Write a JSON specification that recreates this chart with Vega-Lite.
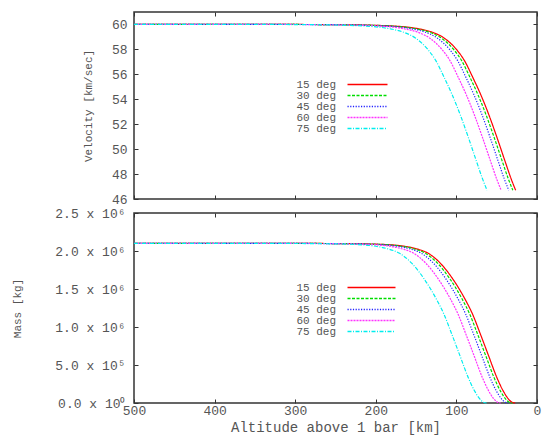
{
  "$schema": "https://vega.github.io/schema/vega-lite/v6.json",
  "padding": {"left": 11, "top": 10, "right": 4, "bottom": 2},
  "bounds": "flush",
  "spacing": 14,
  "datasets": {
    "vel": [
      {"d":"15 deg","a":500,"v":60.0},{"d":"15 deg","a":300,"v":60.0},{"d":"15 deg","a":260,"v":59.99},{"d":"15 deg","a":230,"v":59.97},{"d":"15 deg","a":200,"v":59.93},{"d":"15 deg","a":180,"v":59.88},{"d":"15 deg","a":160,"v":59.78},{"d":"15 deg","a":145,"v":59.63},{"d":"15 deg","a":130,"v":59.38},{"d":"15 deg","a":115,"v":58.9},{"d":"15 deg","a":100,"v":58.0},{"d":"15 deg","a":90,"v":57.1},{"d":"15 deg","a":80,"v":55.8},{"d":"15 deg","a":70,"v":54.4},{"d":"15 deg","a":60,"v":52.8},{"d":"15 deg","a":50,"v":51.0},{"d":"15 deg","a":40,"v":49.1},{"d":"15 deg","a":32,"v":47.6},{"d":"15 deg","a":26.5,"v":46.7},
      {"d":"30 deg","a":500,"v":60.0},{"d":"30 deg","a":303.5,"v":60.0},{"d":"30 deg","a":263.5,"v":59.99},{"d":"30 deg","a":233.5,"v":59.97},{"d":"30 deg","a":203.5,"v":59.93},{"d":"30 deg","a":183.5,"v":59.88},{"d":"30 deg","a":163.5,"v":59.78},{"d":"30 deg","a":148.5,"v":59.63},{"d":"30 deg","a":133.5,"v":59.38},{"d":"30 deg","a":118.5,"v":58.9},{"d":"30 deg","a":103.5,"v":58.0},{"d":"30 deg","a":93.5,"v":57.1},{"d":"30 deg","a":83.5,"v":55.8},{"d":"30 deg","a":73.5,"v":54.4},{"d":"30 deg","a":63.5,"v":52.8},{"d":"30 deg","a":53.5,"v":51.0},{"d":"30 deg","a":43.5,"v":49.1},{"d":"30 deg","a":35.5,"v":47.6},{"d":"30 deg","a":30,"v":46.7},
      {"d":"45 deg","a":500,"v":60.0},{"d":"45 deg","a":308.5,"v":60.0},{"d":"45 deg","a":268.5,"v":59.99},{"d":"45 deg","a":238.5,"v":59.97},{"d":"45 deg","a":208.5,"v":59.93},{"d":"45 deg","a":188.5,"v":59.88},{"d":"45 deg","a":168.5,"v":59.78},{"d":"45 deg","a":153.5,"v":59.63},{"d":"45 deg","a":138.5,"v":59.38},{"d":"45 deg","a":123.5,"v":58.9},{"d":"45 deg","a":108.5,"v":58.0},{"d":"45 deg","a":98.5,"v":57.1},{"d":"45 deg","a":88.5,"v":55.8},{"d":"45 deg","a":78.5,"v":54.4},{"d":"45 deg","a":68.5,"v":52.8},{"d":"45 deg","a":58.5,"v":51.0},{"d":"45 deg","a":48.5,"v":49.1},{"d":"45 deg","a":40.5,"v":47.6},{"d":"45 deg","a":35,"v":46.7},
      {"d":"60 deg","a":500,"v":60.0},{"d":"60 deg","a":318,"v":60.0},{"d":"60 deg","a":278,"v":59.99},{"d":"60 deg","a":248,"v":59.97},{"d":"60 deg","a":218,"v":59.93},{"d":"60 deg","a":198,"v":59.88},{"d":"60 deg","a":178,"v":59.78},{"d":"60 deg","a":163,"v":59.63},{"d":"60 deg","a":148,"v":59.38},{"d":"60 deg","a":133,"v":58.9},{"d":"60 deg","a":118,"v":58.0},{"d":"60 deg","a":108,"v":57.1},{"d":"60 deg","a":98,"v":55.8},{"d":"60 deg","a":88,"v":54.4},{"d":"60 deg","a":78,"v":52.8},{"d":"60 deg","a":68,"v":51.0},{"d":"60 deg","a":58,"v":49.1},{"d":"60 deg","a":50,"v":47.6},{"d":"60 deg","a":44.5,"v":46.7},
      {"d":"75 deg","a":500,"v":60.0},{"d":"75 deg","a":335.5,"v":60.0},{"d":"75 deg","a":295.5,"v":59.99},{"d":"75 deg","a":265.5,"v":59.97},{"d":"75 deg","a":235.5,"v":59.93},{"d":"75 deg","a":215.5,"v":59.88},{"d":"75 deg","a":195.5,"v":59.78},{"d":"75 deg","a":180.5,"v":59.63},{"d":"75 deg","a":165.5,"v":59.38},{"d":"75 deg","a":150.5,"v":58.9},{"d":"75 deg","a":135.5,"v":58.0},{"d":"75 deg","a":125.5,"v":57.1},{"d":"75 deg","a":115.5,"v":55.8},{"d":"75 deg","a":105.5,"v":54.4},{"d":"75 deg","a":95.5,"v":52.8},{"d":"75 deg","a":85.5,"v":51.0},{"d":"75 deg","a":75.5,"v":49.1},{"d":"75 deg","a":67.5,"v":47.6},{"d":"75 deg","a":62,"v":46.7}
    ],
    "mass": [
      {"d":"15 deg","a":500,"m":2100000},{"d":"15 deg","a":300,"m":2100000},{"d":"15 deg","a":250,"m":2098000},{"d":"15 deg","a":200,"m":2090000},{"d":"15 deg","a":170,"m":2070000},{"d":"15 deg","a":150,"m":2030000},{"d":"15 deg","a":135,"m":1970000},{"d":"15 deg","a":120,"m":1840000},{"d":"15 deg","a":105,"m":1640000},{"d":"15 deg","a":90,"m":1380000},{"d":"15 deg","a":80,"m":1170000},{"d":"15 deg","a":70,"m":900000},{"d":"15 deg","a":60,"m":620000},{"d":"15 deg","a":50,"m":340000},{"d":"15 deg","a":42,"m":160000},{"d":"15 deg","a":36,"m":60000},{"d":"15 deg","a":31,"m":10000},{"d":"15 deg","a":27,"m":0},
      {"d":"30 deg","a":500,"m":2100000},{"d":"30 deg","a":303.5,"m":2100000},{"d":"30 deg","a":253.5,"m":2098000},{"d":"30 deg","a":203.5,"m":2090000},{"d":"30 deg","a":173.5,"m":2070000},{"d":"30 deg","a":153.5,"m":2030000},{"d":"30 deg","a":138.5,"m":1970000},{"d":"30 deg","a":123.5,"m":1840000},{"d":"30 deg","a":108.5,"m":1640000},{"d":"30 deg","a":93.5,"m":1380000},{"d":"30 deg","a":83.5,"m":1170000},{"d":"30 deg","a":73.5,"m":900000},{"d":"30 deg","a":63.5,"m":620000},{"d":"30 deg","a":53.5,"m":340000},{"d":"30 deg","a":45.5,"m":160000},{"d":"30 deg","a":39.5,"m":60000},{"d":"30 deg","a":34.5,"m":10000},{"d":"30 deg","a":30.5,"m":0},
      {"d":"45 deg","a":500,"m":2100000},{"d":"45 deg","a":308.5,"m":2100000},{"d":"45 deg","a":258.5,"m":2098000},{"d":"45 deg","a":208.5,"m":2090000},{"d":"45 deg","a":178.5,"m":2070000},{"d":"45 deg","a":158.5,"m":2030000},{"d":"45 deg","a":143.5,"m":1970000},{"d":"45 deg","a":128.5,"m":1840000},{"d":"45 deg","a":113.5,"m":1640000},{"d":"45 deg","a":98.5,"m":1380000},{"d":"45 deg","a":88.5,"m":1170000},{"d":"45 deg","a":78.5,"m":900000},{"d":"45 deg","a":68.5,"m":620000},{"d":"45 deg","a":58.5,"m":340000},{"d":"45 deg","a":50.5,"m":160000},{"d":"45 deg","a":44.5,"m":60000},{"d":"45 deg","a":39.5,"m":10000},{"d":"45 deg","a":35.5,"m":0},
      {"d":"60 deg","a":500,"m":2100000},{"d":"60 deg","a":318,"m":2100000},{"d":"60 deg","a":268,"m":2098000},{"d":"60 deg","a":218,"m":2090000},{"d":"60 deg","a":188,"m":2070000},{"d":"60 deg","a":168,"m":2030000},{"d":"60 deg","a":153,"m":1970000},{"d":"60 deg","a":138,"m":1840000},{"d":"60 deg","a":123,"m":1640000},{"d":"60 deg","a":108,"m":1380000},{"d":"60 deg","a":98,"m":1170000},{"d":"60 deg","a":88,"m":900000},{"d":"60 deg","a":78,"m":620000},{"d":"60 deg","a":68,"m":340000},{"d":"60 deg","a":60,"m":160000},{"d":"60 deg","a":54,"m":60000},{"d":"60 deg","a":49,"m":10000},{"d":"60 deg","a":45,"m":0},
      {"d":"75 deg","a":500,"m":2100000},{"d":"75 deg","a":335.5,"m":2100000},{"d":"75 deg","a":285.5,"m":2098000},{"d":"75 deg","a":235.5,"m":2090000},{"d":"75 deg","a":205.5,"m":2070000},{"d":"75 deg","a":185.5,"m":2030000},{"d":"75 deg","a":170.5,"m":1970000},{"d":"75 deg","a":155.5,"m":1840000},{"d":"75 deg","a":140.5,"m":1640000},{"d":"75 deg","a":125.5,"m":1380000},{"d":"75 deg","a":115.5,"m":1170000},{"d":"75 deg","a":105.5,"m":900000},{"d":"75 deg","a":95.5,"m":620000},{"d":"75 deg","a":85.5,"m":340000},{"d":"75 deg","a":77.5,"m":160000},{"d":"75 deg","a":71.5,"m":60000},{"d":"75 deg","a":66.5,"m":10000},{"d":"75 deg","a":62.5,"m":0}
    ]
  },
  "vconcat": [
    {
      "width": 403,
      "height": 187,
      "data": {"name": "vel"},
      "layer": [
        {
          "mark": {"type": "line", "strokeWidth": 1.2, "interpolate": "monotone"},
          "encoding": {
            "x": {"field": "a", "type": "quantitative", "scale": {"domain": [0, 500], "reverse": true, "nice": false},
                  "axis": {"values": [0, 100, 200, 300, 400, 500], "labels": false, "title": null, "tickSize": -4}},
            "y": {"field": "v", "type": "quantitative", "scale": {"domain": [46, 61], "nice": false, "zero": false},
                  "axis": {"values": [46, 48, 50, 52, 54, 56, 58, 60], "title": "Velocity [km/sec]", "tickSize": -4, "labelPadding": 11, "titlePadding": 18, "titleFontSize": 11}},
            "color": {"field": "d", "type": "nominal",
                      "scale": {"domain": ["15 deg", "30 deg", "45 deg", "60 deg", "75 deg"], "range": ["#ff0000", "#00dd00", "#2222ff", "#ff33ff", "#00eeee"]},
                      "legend": {"orient": "none", "legendX": 228, "legendY": 67, "title": null, "symbolType": "M-5,0H5", "symbolSize": 64, "symbolStrokeWidth": 1.5, "labelAlign": "right", "labelOffset": -37, "rowPadding": -2, "padding": 0}},
            "strokeDash": {"field": "d", "type": "nominal",
                      "scale": {"domain": ["15 deg", "30 deg", "45 deg", "60 deg", "75 deg"], "range": [[1, 0], [3, 1.5], [1.2, 1.5], [2, 1], [4, 1.5, 1, 1.5]]},
                      "legend": {"orient": "none", "legendX": 228, "legendY": 67, "title": null, "symbolType": "M-5,0H5", "symbolSize": 64, "symbolStrokeWidth": 1.5, "labelAlign": "right", "labelOffset": -37, "rowPadding": -2, "padding": 0}}
          }
        },
        {
          "mark": {"type": "line", "opacity": 0},
          "encoding": {
            "x": {"field": "a", "type": "quantitative", "scale": {"domain": [0, 500], "reverse": true, "nice": false},
                  "axis": {"orient": "top", "values": [0, 100, 200, 300, 400, 500], "labels": false, "title": null, "tickSize": -4}},
            "y": {"field": "v", "type": "quantitative", "scale": {"domain": [46, 61], "nice": false, "zero": false},
                  "axis": {"orient": "right", "values": [46, 48, 50, 52, 54, 56, 58, 60], "labels": false, "title": null, "tickSize": -4}},
            "detail": {"field": "d"}
          }
        }
      ],
      "resolve": {"axis": {"x": "independent", "y": "independent"}}
    },
    {
      "width": 403,
      "height": 190,
      "data": {"name": "mass"},
      "layer": [
        {
          "mark": {"type": "line", "strokeWidth": 1.2, "interpolate": "monotone"},
          "encoding": {
            "x": {"field": "a", "type": "quantitative", "scale": {"domain": [0, 500], "reverse": true, "nice": false},
                  "axis": {"values": [0, 100, 200, 300, 400, 500], "title": "Altitude above 1 bar [km]", "tickSize": -4, "labelPadding": 5, "labelFlush": false, "titlePadding": 3, "titleFontSize": 14}},
            "y": {"field": "m", "type": "quantitative", "scale": {"domain": [0, 2500000], "nice": false},
                  "axis": {"values": [0, 500000, 1000000, 1500000, 2000000, 2500000], "title": "Mass [kg]", "tickSize": -4, "labelPadding": 13, "titlePadding": 32, "titleFontSize": 11,
                           "labelExpr": "datum.value == 0 ? '0.0 x 10⁰' : (datum.value < 1000000 ? format(datum.value / 100000, '.1f') + ' x 10⁵' : format(datum.value / 1000000, '.1f') + ' x 10⁶')"}},
            "color": {"field": "d", "type": "nominal",
                      "scale": {"domain": ["15 deg", "30 deg", "45 deg", "60 deg", "75 deg"], "range": ["#ff0000", "#00dd00", "#2222ff", "#ff33ff", "#00eeee"]},
                      "legend": {"orient": "none", "legendX": 232, "legendY": 69, "title": null, "symbolType": "M-6,0H6", "symbolSize": 64, "symbolStrokeWidth": 1.5, "labelAlign": "right", "labelOffset": -41, "rowPadding": -2, "padding": 0}},
            "strokeDash": {"field": "d", "type": "nominal",
                      "scale": {"domain": ["15 deg", "30 deg", "45 deg", "60 deg", "75 deg"], "range": [[1, 0], [3, 1.5], [1.2, 1.5], [2, 1], [4, 1.5, 1, 1.5]]},
                      "legend": {"orient": "none", "legendX": 232, "legendY": 69, "title": null, "symbolType": "M-6,0H6", "symbolSize": 64, "symbolStrokeWidth": 1.5, "labelAlign": "right", "labelOffset": -41, "rowPadding": -2, "padding": 0}}
          }
        },
        {
          "mark": {"type": "line", "opacity": 0},
          "encoding": {
            "x": {"field": "a", "type": "quantitative", "scale": {"domain": [0, 500], "reverse": true, "nice": false},
                  "axis": {"orient": "top", "values": [0, 100, 200, 300, 400, 500], "labels": false, "title": null, "tickSize": -4}},
            "y": {"field": "m", "type": "quantitative", "scale": {"domain": [0, 2500000], "nice": false},
                  "axis": {"orient": "right", "values": [0, 500000, 1000000, 1500000, 2000000, 2500000], "labels": false, "title": null, "tickSize": -4}},
            "detail": {"field": "d"}
          }
        }
      ],
      "resolve": {"axis": {"x": "independent", "y": "independent"}}
    }
  ],
  "resolve": {"legend": {"color": "independent", "strokeDash": "independent"}},
  "config": {
    "view": {"stroke": "#333333", "strokeWidth": 1.5},
    "axis": {"labelFont": "Liberation Mono", "titleFont": "Liberation Mono", "labelColor": "#555555", "titleColor": "#555555", "labelFontSize": 13, "titleFontWeight": "normal", "tickColor": "#333333", "tickWidth": 1, "grid": false, "domain": false},
    "legend": {"labelFont": "Liberation Mono", "labelFontSize": 11, "labelColor": "#555555"}
  }
}
